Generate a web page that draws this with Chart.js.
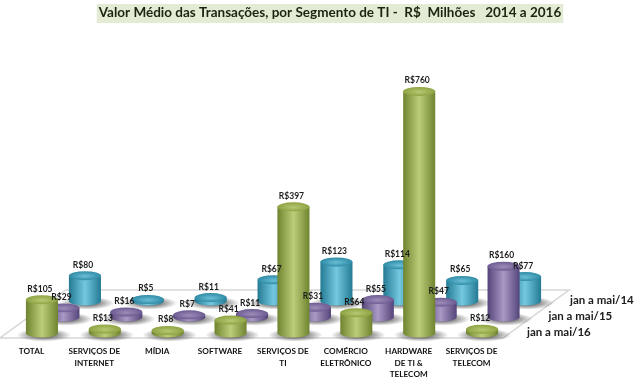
<!DOCTYPE html>
<html lang="en">
<head>
    <meta charset="UTF-8">
    <title>Valor Médio das Transações</title>
    <script src="https://cdn.jsdelivr.net/npm/chart.js"></script>
    <style>
        body { margin: 0; background: #fff; }
    </style>
</head>
<body>
    <canvas id="myChart" width="640" height="384"></canvas>

    <script>
        const chartTitle = 'Valor Médio das Transações, por Segmento de TI -  R$  Milhões   2014 a 2016';
        const categories = [
            ['TOTAL'],
            ['SERVIÇOS DE', 'INTERNET'],
            ['MÍDIA'],
            ['SOFTWARE'],
            ['SERVIÇOS DE', 'TI'],
            ['COMÉRCIO', 'ELETRÔNICO'],
            ['HARDWARE', 'DE TI &', 'TELECOM'],
            ['SERVIÇOS DE', 'TELECOM']
        ];
        const seriesNames = ['jan a mai/16', 'jan a mai/15', 'jan a mai/14'];
        const values16 = [105, 13, 8, 41, 397, 64, 760, 12];
        const values15 = [29, 16, 7, 11, 31, 55, 47, 160];
        const values14 = [80, 5, 11, 67, 123, 114, 65, 77];

        // the fake 3D look: how far each row sits back on the floor
        const rowDepth = [
            { dx: 10.5, dy: -10, edge: '#6f8430', light: '#bccd78', top: '#8ea342', topLight: '#b4c670' },
            { dx: 32, dy: -26, edge: '#54447a', light: '#a999c4', top: '#6d5b92', topLight: '#9a8ab6' },
            { dx: 53.5, dy: -42, edge: '#237a93', light: '#74c8e0', top: '#2f8ba6', topLight: '#66bbd3' }
        ];
        const floorDepth = { dx: 66, dy: -48 };
        const fontName = 'Lato';

        function drawShadow(ctx, x, y, rx) {
            ctx.save();
            ctx.translate(x, y);
            ctx.scale(1, 0.24);
            const g = ctx.createRadialGradient(0, 0, rx * 0.5, 0, 0, rx * 1.7);
            g.addColorStop(0, 'rgba(50,50,50,0.7)');
            g.addColorStop(1, 'rgba(50,50,50,0)');
            ctx.fillStyle = g;
            ctx.beginPath();
            ctx.arc(0, 0, rx * 1.7, 0, Math.PI * 2);
            ctx.fill();
            ctx.restore();
        }

        function drawCylinder(ctx, x, top, base, rx, look) {
            const ry = rx * 0.28;
            const side = ctx.createLinearGradient(x - rx, 0, x + rx, 0);
            side.addColorStop(0, look.edge);
            side.addColorStop(0.5, look.light);
            side.addColorStop(1, look.edge);
            ctx.fillStyle = side;
            ctx.beginPath();
            ctx.ellipse(x, base, rx, ry, 0, 0, Math.PI);
            ctx.lineTo(x - rx, top);
            ctx.lineTo(x + rx, top);
            ctx.closePath();
            ctx.fill();

            const cap = ctx.createRadialGradient(x, top + ry * 0.5, 1, x, top, rx);
            cap.addColorStop(0, look.topLight);
            cap.addColorStop(1, look.top);
            ctx.save();
            ctx.translate(x, top);
            ctx.scale(1, 0.28);
            ctx.translate(-x, -top);
            ctx.fillStyle = cap;
            ctx.beginPath();
            ctx.arc(x, top, rx, 0, Math.PI * 2);
            ctx.fill();
            ctx.restore();
        }

        const cylinders = {
            id: 'cylinders',
            afterLayout(chart) {
                // title sits a bit right of the canvas centre
                chart.titleBlock.left = 20;
                chart.titleBlock.right = 640;
            },
            beforeDraw(chart) {
                const { ctx, chartArea: a } = chart;
                ctx.save();
                ctx.font = 'bold 13.5px ' + fontName;
                const w = ctx.measureText(chartTitle).width;
                ctx.fillStyle = '#e3ebd5';
                ctx.fillRect(330 - w / 2 - 2, 4, w + 4, 19);

                // floor
                ctx.beginPath();
                ctx.moveTo(a.left, a.bottom);
                ctx.lineTo(a.right, a.bottom);
                ctx.lineTo(a.right + floorDepth.dx, a.bottom + floorDepth.dy);
                ctx.lineTo(a.left + floorDepth.dx, a.bottom + floorDepth.dy);
                ctx.closePath();
                ctx.fillStyle = '#ffffff';
                ctx.fill();
                ctx.strokeStyle = '#d6d6d6';
                ctx.lineWidth = 1.5;
                ctx.stroke();
                ctx.restore();
            },
            beforeDatasetDraw(chart, args) {
                const ctx = chart.ctx;
                const look = rowDepth[args.index];
                ctx.save();
                args.meta.data.forEach((bar) => {
                    const x = bar.x + look.dx;
                    const base = bar.base + look.dy;
                    const rx = bar.width / 2;
                    drawShadow(ctx, x + 2, base + 2, rx);
                });
                args.meta.data.forEach((bar) => {
                    const x = bar.x + look.dx;
                    const base = bar.base + look.dy;
                    const top = Math.min(bar.y + look.dy, base - 1);
                    drawCylinder(ctx, x, top, base, bar.width / 2, look);
                });
                ctx.restore();
                return false; // bars are replaced by the cylinders
            },
            afterDatasetsDraw(chart) {
                const { ctx, chartArea: a } = chart;
                ctx.save();
                ctx.textAlign = 'center';
                ctx.textBaseline = 'middle';
                ctx.font = 'bold 8.5px ' + fontName;
                ctx.fillStyle = '#1c1c1c';
                chart.data.datasets.forEach((ds, i) => {
                    const look = rowDepth[i];
                    chart.getDatasetMeta(i).data.forEach((bar, j) => {
                        const base = bar.base + look.dy;
                        const top = Math.min(bar.y + look.dy, base - 1);
                        ctx.fillText('R$' + ds.data[j], bar.x + look.dx - 2, top - bar.width * 0.15 - 6);
                    });
                });

                // row names, to the right of the floor
                ctx.textAlign = 'left';
                ctx.font = 'bold 11.5px ' + fontName;
                seriesNames.forEach((name, i) => {
                    const look = rowDepth[i];
                    ctx.fillText(name, a.right + look.dx + 13.5, a.bottom + look.dy + 4);
                });
                ctx.restore();
            }
        };

        const row = (label, data) => ({
            label: label,
            data: data,
            grouped: false,
            barPercentage: 0.51,
            categoryPercentage: 1
        });

        new Chart(document.getElementById('myChart').getContext('2d'), {
            type: 'bar',
            data: {
                labels: categories,
                datasets: [
                    row(seriesNames[0], values16),
                    row(seriesNames[1], values15),
                    row(seriesNames[2], values14)
                ]
            },
            options: {
                responsive: false,
                animation: false,
                layout: { padding: { left: 0, right: 137, top: 0, bottom: 2 } },
                plugins: {
                    legend: { display: false },
                    tooltip: { enabled: false },
                    title: {
                        display: true,
                        text: chartTitle,
                        color: '#1c2410',
                        font: { family: fontName, size: 13.5, weight: 'bold' },
                        padding: { top: 5, bottom: 15 }
                    }
                },
                scales: {
                    x: {
                        afterFit(axis) { axis.height = 44; },
                        grid: { display: false, drawTicks: false },
                        border: { display: false },
                        ticks: {
                            autoSkip: false,
                            maxRotation: 0,
                            padding: 8,
                            color: '#111111',
                            font: { family: fontName, size: 8.2, weight: 'bold', lineHeight: 1.4 }
                        }
                    },
                    y: { display: false, min: 16, max: 965 }
                }
            },
            plugins: [cylinders]
        });
    </script>
</body>
</html>
